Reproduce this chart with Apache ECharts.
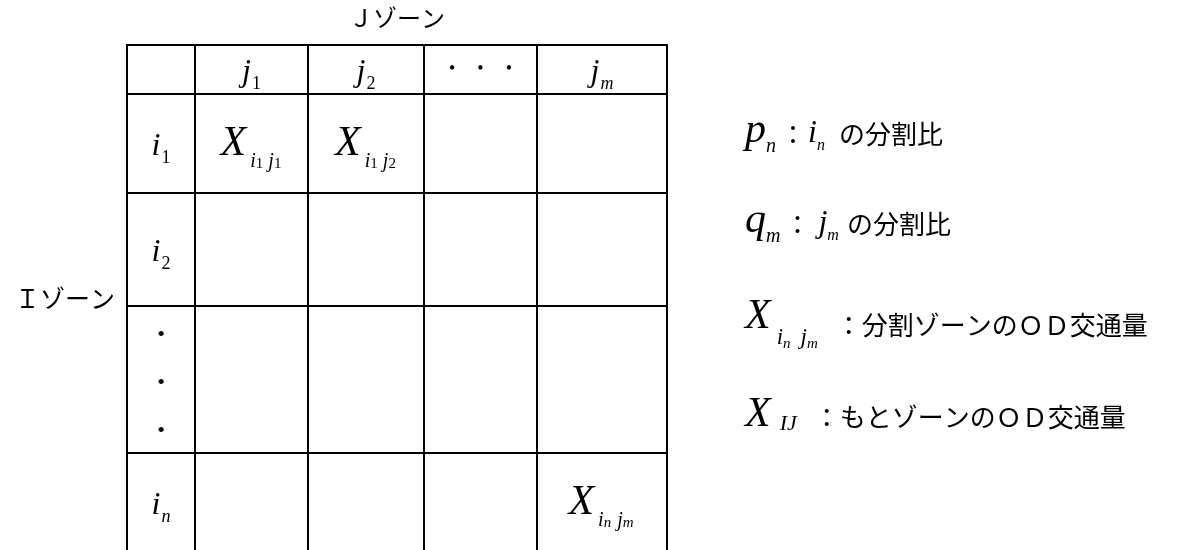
<!DOCTYPE html>
<html>
<head>
<meta charset="utf-8">
<title>ODゾーン分割</title>
<script src="https://cdn.jsdelivr.net/npm/echarts@6/dist/echarts.min.js"></script>
<style>
  html, body { margin: 0; padding: 0; background: #fff; }
  #chart { width: 1183px; height: 550px; }
</style>
</head>
<body>
<div id="chart"></div>
<script>
// table layout (widths / heights of the columns and rows, in px units of the axes)
const colWidths = [68, 113, 116, 113, 130];
const rowHeights = [49, 99, 113, 147, 99];

// header texts (rich strings)
const colHeads = ['', '{m|j}{s|1}', '{m|j}{s|2}', '{d|•}{d|•}{d|•}', '{m|j}{si|m}'];
const rowHeads = ['{m|i}{s|1}', '{m|i}{s|2}', '•\n•\n•', '{m|i}{si|n}'];
const flows = [
  ['{X|X}{xi|i}{xd|1}{xi|j}{xd|1}', '{X|X}{xi|i}{xd|1}{xi|j}{xd|2}', '', ''],
  ['', '', '', ''],
  ['', '', '', ''],
  ['', '', '', '{X|X}{xi|i}{xs|n}{xi|j}{xs|m}']
];
const notes = [
  '{P|p}{pn|n}{c|：}{LI|i}{Ln|n}{jp|の分割比}',
  '{P|q}{pn|m}{c|：}{LJ|j}{Lm|m}{jp|の分割比}',
  '{LX|X}{lxi|i}{lxs|n}{lxi|j}{lxs|m}{jpa|：分割ゾーンのＯＤ交通量}',
  '{LX|X}{lij|IJ}{jpb|：もとゾーンのＯＤ交通量}'
];
const noteTops = [110, 200, 296, 394];

const MATH = "'Liberation Serif', 'Times New Roman', serif";
const JP = "'Noto Sans CJK JP', sans-serif";

const colEdges = [0];
colWidths.forEach(w => colEdges.push(colEdges[colEdges.length - 1] + w));
const rowEdges = [0];
rowHeights.forEach(h => rowEdges.push(rowEdges[rowEdges.length - 1] + h));

function it(size, pad) {
  return { fontFamily: MATH, fontStyle: 'italic', fontSize: size, lineHeight: size,
           verticalAlign: 'top', padding: pad || 0, color: '#000' };
}
function up(size, pad) {
  return { fontFamily: MATH, fontSize: size, lineHeight: size,
           verticalAlign: 'top', padding: pad || 0, color: '#000' };
}
function jp(size, pad) {
  return { fontFamily: JP, fontSize: size, lineHeight: size,
           verticalAlign: 'top', padding: pad || 0, color: '#000' };
}

const cellRich = {
  m: it(32, [3, 0, 0, 0]),
  s: up(18, [22, 0, 0, 1]),
  si: it(18, [22, 0, 0, 1]),
  d: up(18, [0, 11, 0, 11]),
  X: it(42, 0),
  xi: it(20, [29, 0, 0, 4]),
  xd: up(15, [34, 1, 13, 0]),
  xs: it(15, [34, 2, 13, 0])
};

const noteRich = {
  P: it(42, 0),
  pn: it(20, [27, 0, 0, 0]),
  c: jp(26, [11, 0, 0, 4]),
  LI: it(32, [8, 0, 0, 2]),
  LJ: it(32, [8, 0, 0, 8]),
  Ln: it(16, [28, 14, 0, 0]),
  Lm: it(16, [28, 8, 0, 0]),
  jp: jp(26, [11, 0, 0, 0]),
  LX: it(42, 0),
  lxi: it(23, [30, 0, 0, 6]),
  lxs: it(15, [41, 4, 0, 0]),
  jpa: jp(26, [16, 0, 0, 14]),
  lij: it(22, [19, 0, 0, 9]),
  jpb: jp(26, [10, 0, 0, 17])
};

const cells = [];
for (let r = 0; r < rowHeights.length; r++) {
  for (let c = 0; c < colWidths.length; c++) cells.push([c, r]);
}

function cellText(c, r) {
  if (r === 0) return colHeads[c];
  if (c === 0) return rowHeads[r - 1];
  return flows[r - 1][c - 1];
}

const chart = echarts.init(document.getElementById('chart'));
chart.setOption({
  animation: false,
  backgroundColor: '#fff',
  grid: {
    left: 127, top: 45,
    width: colEdges[colEdges.length - 1], height: rowEdges[rowEdges.length - 1],
    outerBoundsMode: 'none', containLabel: false
  },
  xAxis: {
    type: 'value', position: 'top', min: 0, max: colEdges[colEdges.length - 1],
    name: 'Ｊゾーン', nameLocation: 'middle', nameGap: 15,
    nameTextStyle: { fontFamily: JP, fontSize: 24, color: '#000' },
    axisLine: { show: false }, axisTick: { show: false }, axisLabel: { show: false }, splitLine: { show: false }
  },
  yAxis: {
    type: 'value', inverse: true, min: 0, max: rowEdges[rowEdges.length - 1],
    name: 'Ｉゾーン', nameLocation: 'middle', nameRotate: 0, nameGap: 12,
    nameTextStyle: { fontFamily: JP, fontSize: 25, color: '#000', padding: [0, 0, 6, 0] },
    axisLine: { show: false }, axisTick: { show: false }, axisLabel: { show: false }, splitLine: { show: false }
  },
  graphic: notes.map((t, i) => ({
    type: 'text', left: 745, top: noteTops[i],
    style: { text: t, rich: noteRich, fill: '#000' }
  })),
  series: [{
    type: 'custom',
    data: cells,
    renderItem(params, api) {
      const c = api.value(0), r = api.value(1);
      const p0 = api.coord([colEdges[c], rowEdges[r]]);
      const p1 = api.coord([colEdges[c + 1], rowEdges[r + 1]]);
      // the stacked dots sit a little below the middle of their cell
      const dy = (c === 0 && r === 3) ? 4 : 0;
      return {
        type: 'rect',
        shape: { x: p0[0], y: p0[1], width: p1[0] - p0[0], height: p1[1] - p0[1] },
        style: { fill: 'none', stroke: '#000', lineWidth: 2 },
        textContent: {
          style: {
            text: cellText(c, r), rich: cellRich, fill: '#000',
            fontFamily: MATH, fontSize: 22, lineHeight: 48
          }
        },
        textConfig: { position: 'inside', offset: [0, dy] }
      };
    }
  }]
});
</script>
</body>
</html>
